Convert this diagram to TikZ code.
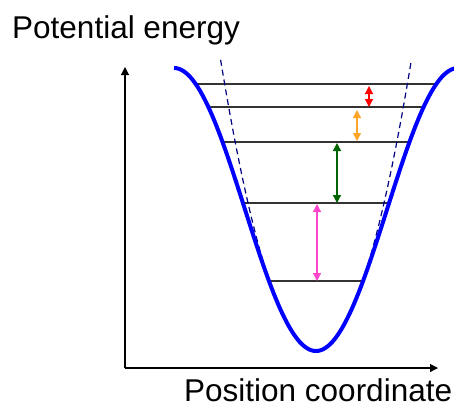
\documentclass[tikz,border=0pt]{standalone}
\usepackage{fontspec}
\setmainfont{Liberation Sans}
\usetikzlibrary{arrows.meta}

\definecolor{gaporange}{RGB}{255,165,40}
\definecolor{gapgreen}{RGB}{0,100,0}
\definecolor{gappink}{RGB}{255,70,205}

\tikzset{
  level/.style={draw=black!80,line width=1.1pt},
  gap/.style={<->,line width=1.3pt},
  harmonic/.style={draw=blue!50!black,line width=1.2pt,dash pattern=on 6pt off 4pt},
}

\begin{document}
\begin{tikzpicture}[x=1pt,y=-1pt,>={Triangle[length=8pt,width=8pt]},font=\fontsize{31.5}{36}\selectfont]
  \useasboundingbox (0,0) rectangle (454,407);
  % axes
  \coordinate (origin) at (125,368);
  \coordinate (ytop) at (125,67);
  \coordinate (xend) at (438,368);
  \draw[->,line width=1.1pt] (origin) -- (ytop);
  \draw[->,line width=1.1pt] (origin) -- (xend);
  \node[anchor=base west,inner sep=0pt] (ylabel) at (12,38) {Potential energy};
  \node[anchor=base west,inner sep=0pt] (xlabel) at (184,401) {Position coordinate};
  % vibrational levels
  \foreach \d/\name in {267/a,244/b,209/c,148/d,70/e}{
    \pgfmathsetmacro{\dx}{acos(1-\d/141.5)/180*142}
    \coordinate (\name L) at ({316-\dx},{351-\d});
    \coordinate (\name R) at ({316+\dx},{351-\d});
    \draw[level] (\name L) -- (\name R);
  }
  % harmonic approximation
  \draw[harmonic] plot[domain=-95.4:95.4,samples=60] ({316+\x},{351-0.032*\x*\x});
  % real potential
  \draw[blue,line width=4pt] plot[domain=-142:140,samples=120] ({316+\x},{351-141.5*(1-cos(\x/142*180))});
  % spacings
  \coordinate (r1) at (369,86);  \coordinate (r2) at (369,107);
  \coordinate (o1) at (357,110); \coordinate (o2) at (357,141);
  \coordinate (g1) at (337,143); \coordinate (g2) at (337,203);
  \coordinate (m1) at (317,204); \coordinate (m2) at (317,281);
  \draw[gap,red] (r1) -- (r2);
  \draw[gap,gaporange] (o1) -- (o2);
  \draw[gap,gapgreen] (g1) -- (g2);
  \draw[gap,gappink] (m1) -- (m2);
\end{tikzpicture}
\end{document}
